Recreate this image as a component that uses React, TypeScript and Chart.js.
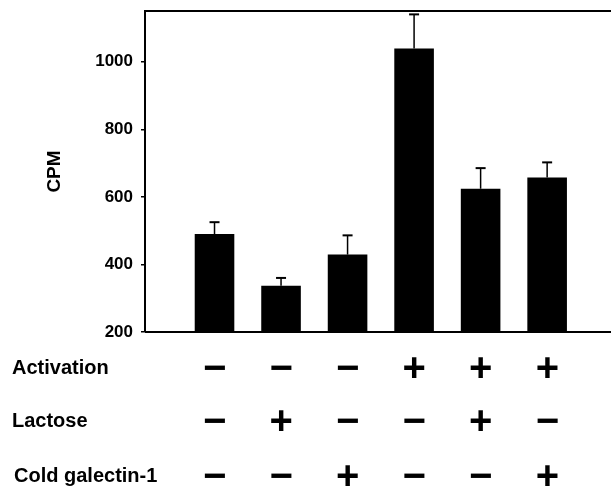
import React, { useEffect, useRef } from 'react';
import { Chart, registerables } from 'chart.js';

Chart.register(...registerables);

// ---- data ----
const groups = [1, 2, 3, 4, 5, 6];
const cpm = [490, 337, 429, 1039, 624, 657];
const sem = [35, 23, 57, 101, 61, 45];
const yTicks = [200, 400, 600, 800, 1000];
const rowLabels = ['Activation', 'Lactose', 'Cold galectin-1'];
const activation = ['\u2212', '\u2212', '\u2212', '+', '+', '+'];
const lactose = ['\u2212', '+', '\u2212', '\u2212', '+', '\u2212'];
const coldGalectin = ['\u2212', '\u2212', '+', '\u2212', '\u2212', '+'];
const rows = [activation, lactose, coldGalectin];

const FONT = '"Liberation Sans", Arial, Helvetica, sans-serif';
const ROW_Y = [367, 420, 475];
const LABEL_X = [12, 12, 14];

const extrasPlugin = {
  id: 'extras',
  afterDraw(chart: any) {
    const { ctx, chartArea, scales } = chart;
    const xs = scales.x;
    const ys = scales.y;
    ctx.save();
    ctx.strokeStyle = '#000';
    ctx.fillStyle = '#000';
    // frame top & bottom
    ctx.lineWidth = 2;
    ctx.beginPath();
    ctx.moveTo(chartArea.left, chartArea.top);
    ctx.lineTo(chartArea.right, chartArea.top);
    ctx.moveTo(chartArea.left, chartArea.bottom);
    ctx.lineTo(chartArea.right, chartArea.bottom);
    ctx.stroke();
    // error bars
    groups.forEach((g, i) => {
      const x = xs.getPixelForValue(g);
      const y0 = ys.getPixelForValue(cpm[i]);
      const y1 = ys.getPixelForValue(cpm[i] + sem[i]);
      ctx.lineWidth = 1.5;
      ctx.beginPath();
      ctx.moveTo(x, y0);
      ctx.lineTo(x, y1);
      ctx.stroke();
      ctx.lineWidth = 2;
      ctx.beginPath();
      ctx.moveTo(x - 5, y1);
      ctx.lineTo(x + 5, y1);
      ctx.stroke();
    });
    // row labels
    ctx.font = `bold 20px ${FONT}`;
    ctx.textAlign = 'left';
    ctx.textBaseline = 'alphabetic';
    const cap = ctx.measureText('H').actualBoundingBoxAscent;
    rowLabels.forEach((lab, r) => {
      ctx.fillText(lab, LABEL_X[r], ROW_Y[r] + cap / 2);
    });
    // signs
    ctx.font = `bold 40px ${FONT}`;
    rows.forEach((row, r) => {
      row.forEach((s, i) => {
        const cx = xs.getPixelForValue(groups[i]);
        const m = ctx.measureText(s);
        const L = m.actualBoundingBoxLeft;
        const R = m.actualBoundingBoxRight;
        const A = m.actualBoundingBoxAscent;
        const D = m.actualBoundingBoxDescent;
        ctx.fillText(s, cx - (R - L) / 2, ROW_Y[r] + (A - D) / 2);
      });
    });
    ctx.restore();
  },
};

export default function App() {
  const ref = useRef<HTMLCanvasElement>(null);
  useEffect(() => {
    document.body.style.margin = '0';
    const canvas = ref.current!;
    const chart = new Chart(canvas, {
      type: 'bar',
      data: {
        datasets: [
          {
            data: groups.map((g, i) => ({ x: g, y: cpm[i] })),
            backgroundColor: '#000',
            borderWidth: 0,
            barPercentage: 0.62,
            categoryPercentage: 1,
          },
        ],
      },
      options: {
        responsive: false,
        animation: false,
        devicePixelRatio: 1,
        layout: { padding: { top: 11, bottom: 156, left: 0, right: 0 } },
        plugins: { legend: { display: false }, tooltip: { enabled: false } },
        scales: {
          x: { type: 'linear', display: false, offset: false, min: -0.045, max: 6.96 },
          y: {
            min: yTicks[0],
            max: 1150,
            afterFit: (s: any) => {
              s.width = 145;
              s.paddingTop = 0;
              s.paddingBottom = 0;
            },
            afterBuildTicks: (s: any) => {
              s.ticks = yTicks.map((v) => ({ value: v }));
            },
            ticks: {
              color: '#000',
              padding: 8,
              font: { family: FONT, size: 17, weight: 'bold' },
              callback: (v: any) => String(v),
            },
            grid: {
              drawOnChartArea: false,
              drawTicks: true,
              tickLength: 4,
              color: '#000',
              lineWidth: 1.5,
            },
            border: { display: true, color: '#000', width: 2 },
            title: {
              display: true,
              text: 'CPM',
              color: '#000',
              font: { family: FONT, size: 19, weight: 'bold' },
              padding: { top: 43, bottom: 0 },
            },
          },
        },
      },
      plugins: [extrasPlugin],
    });
    return () => chart.destroy();
  }, []);
  return <canvas ref={ref} width={611} height={488} style={{ display: 'block' }} />;
}
